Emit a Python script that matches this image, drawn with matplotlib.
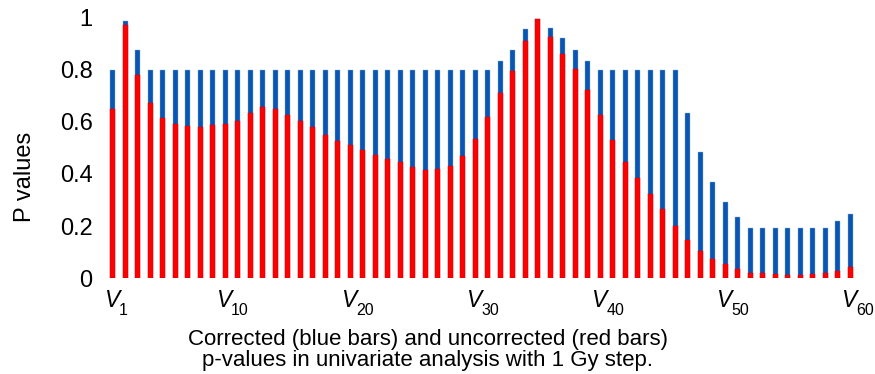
import matplotlib
matplotlib.use("Agg")
import matplotlib.pyplot as plt
import numpy as np

plt.rcParams['font.family'] = ['Liberation Sans', 'DejaVu Sans']

doses = list(range(1, 61))
corrected = [0.80, 0.987, 0.875, 0.80, 0.80, 0.80, 0.80, 0.80, 0.80, 0.80,
             0.80, 0.80, 0.80, 0.80, 0.80, 0.80, 0.80, 0.80, 0.80, 0.80,
             0.80, 0.80, 0.80, 0.80, 0.80, 0.80, 0.80, 0.80, 0.80, 0.80,
             0.80, 0.834, 0.874, 0.955, 0.994, 0.958, 0.920, 0.874, 0.834, 0.80,
             0.80, 0.80, 0.80, 0.80, 0.80, 0.80, 0.633, 0.485, 0.368, 0.294,
             0.234, 0.193, 0.193, 0.193, 0.193, 0.193, 0.193, 0.193, 0.220, 0.246]
uncorrected = [0.647, 0.971, 0.778, 0.670, 0.614, 0.593, 0.582, 0.580, 0.586, 0.593,
               0.603, 0.633, 0.655, 0.649, 0.626, 0.603, 0.579, 0.549, 0.526, 0.510,
               0.493, 0.474, 0.457, 0.444, 0.428, 0.415, 0.418, 0.429, 0.467, 0.535,
               0.618, 0.709, 0.794, 0.909, 0.994, 0.925, 0.861, 0.801, 0.722, 0.627,
               0.530, 0.447, 0.386, 0.324, 0.264, 0.199, 0.147, 0.105, 0.073, 0.054,
               0.034, 0.022, 0.019, 0.015, 0.011, 0.013, 0.017, 0.020, 0.027, 0.042]
tick_doses = [1, 10, 20, 30, 40, 50, 60]
yticks = [0, 0.2, 0.4, 0.6, 0.8, 1]
ytick_labels = ['0', '0.2', '0.4', '0.6', '0.8', '1']

W, H = 875, 374
fig = plt.figure(figsize=(W / 100, H / 100), dpi=100)
left, right = 106.45 / W, 856.45 / W
bottom, top = 1 - 278.3 / H, 1 - 17.3 / H
ax = fig.add_axes([left, bottom, right - left, top - bottom])

blue = '#0A54B2'
red = '#FF0000'
ax.bar(doses, corrected, width=0.42, color=blue, edgecolor='#7fb2e0', linewidth=0.3, zorder=2)
ax.bar(doses, uncorrected, width=0.42, color=red, edgecolor='#d00000', linewidth=0.3, zorder=3)

ax.set_xlim(0.5, 60.5)
ax.set_ylim(0, 1)
for s in ax.spines.values():
    s.set_visible(False)
ax.set_yticks(yticks)
ax.set_yticklabels(ytick_labels, fontsize=17)
ax.tick_params(axis='y', length=0, pad=10)
ax.set_xticks([])

fig.text(25 / W, 1 - 177 / H, 'P values', rotation=90, ha='center', va='center', fontsize=17)

for d in tick_doses:
    ax.annotate('V', xy=(d, 0), xycoords=('data', 'axes fraction'),
                xytext=(-9, -28.6), textcoords='offset pixels',
                ha='left', va='baseline', fontsize=16.5, style='italic')
    ax.annotate(str(d), xy=(d, 0), xycoords=('data', 'axes fraction'),
                xytext=(6, -37), textcoords='offset pixels',
                ha='left', va='baseline', fontsize=11.5)

fig.text(428 / W, 1 - 350 / H,
         'Corrected (blue bars) and uncorrected (red bars)\np-values in univariate analysis with 1 Gy step.',
         ha='center', va='center', fontsize=16, linespacing=0.95)

fig.savefig('out.png', dpi=100)
